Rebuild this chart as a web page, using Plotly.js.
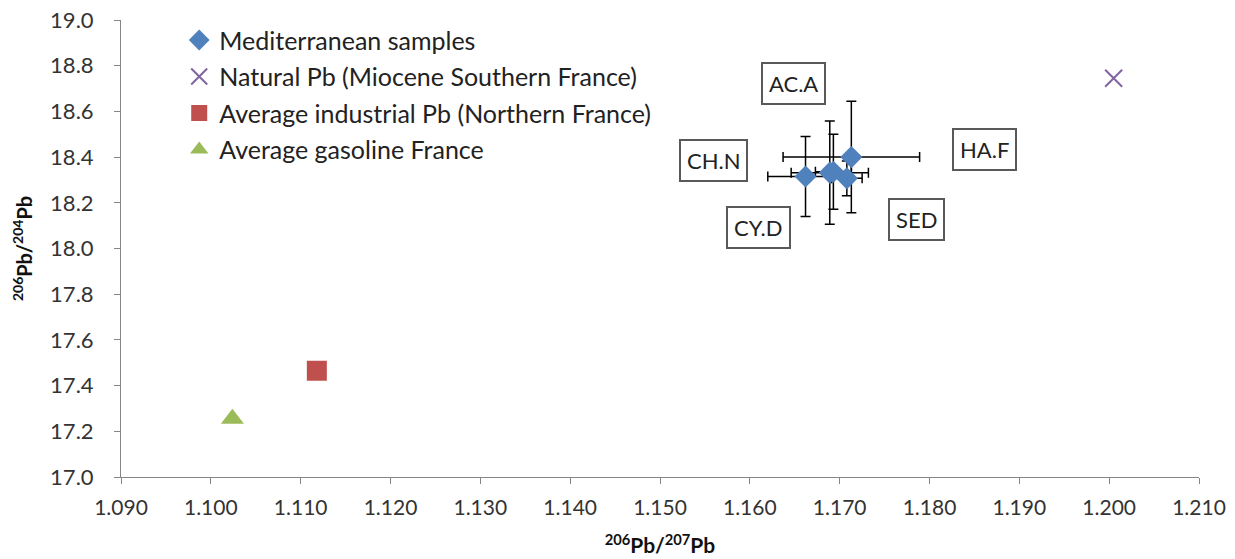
<!DOCTYPE html>
<html>
<head>
<meta charset="utf-8">
<script src="https://cdn.plot.ly/plotly-3.0.1.min.js"></script>
<style>html,body{margin:0;padding:0;background:#fff}#chart{width:1235px;height:559px}</style>
</head>
<body>
<div id="chart"></div>
<script>
// Mediterranean samples
const medNames = ["CH.N", "AC.A", "CY.D", "SED", "HA.F"];
const medX = [1.1662, 1.1689, 1.1693, 1.1708, 1.1713];
const medY = [18.315, 18.332, 18.336, 18.307, 18.400];
const medErrX = [0.0042, 0.0043, 0.0020, 0.0017, 0.0076];
const medErrY = [0.175, 0.226, 0.164, 0.076, 0.244];

// Label boxes
const labelText = ["AC.A", "CH.N", "CY.D", "SED", "HA.F"];
const labelX = [1.1649, 1.1560, 1.1610, 1.1785, 1.1861];
const labelY = [18.72, 18.383, 18.094, 18.129, 18.435];

// Reference end-members
const naturalX = [1.2005];
const naturalY = [18.745];
const industrialX = [1.1118];
const industrialY = [17.465];
const gasolineX = [1.1024];
const gasolineY = [17.255];

const xTicks = [1.09, 1.10, 1.11, 1.12, 1.13, 1.14, 1.15, 1.16, 1.17, 1.18, 1.19, 1.20, 1.21];
const yTicks = [17.0, 17.2, 17.4, 17.6, 17.8, 18.0, 18.2, 18.4, 18.6, 18.8, 19.0];

const FONT = "Lato, Open Sans, sans-serif";

const traces = [
  {
    type: "scatter", mode: "markers", name: "Mediterranean samples",
    x: medX, y: medY, text: medNames, legendgroup: "a",
    marker: {symbol: "diamond", size: 17, color: "#4F81BD"},
    error_x: {type: "data", array: medErrX, visible: true, color: "#000", thickness: 1.5, width: 5},
    error_y: {type: "data", array: medErrY, visible: true, color: "#000", thickness: 1.5, width: 5}
  },
  {
    type: "scatter", mode: "markers", name: "Natural Pb (Miocene Southern France)",
    x: naturalX, y: naturalY, legendgroup: "b",
    marker: {symbol: "x-thin-open", size: 17, color: "#8064A2", line: {color: "#8064A2", width: 2}}
  },
  {
    type: "scatter", mode: "markers", name: "Average industrial Pb (Northern France)",
    x: industrialX, y: industrialY, legendgroup: "c",
    marker: {symbol: "square", size: 20, color: "#C0504D"}
  },
  {
    type: "scatter", mode: "markers", name: "Average gasoline France",
    x: gasolineX, y: gasolineY, legendgroup: "d",
    marker: {symbol: "triangle-up", size: 20, color: "#9BBB59"}
  }
];

const annotations = labelText.map((t, i) => ({
  x: labelX[i], y: labelY[i], xref: "x", yref: "y", text: t, showarrow: false,
  font: {family: FONT, size: 22, color: "#222"},
  bordercolor: "#595959", borderwidth: 2, borderpad: 6, bgcolor: "#fff"
}));

const layout = {
  width: 1235, height: 559,
  margin: {l: 121, r: 36, t: 20, b: 82},
  paper_bgcolor: "#fff", plot_bgcolor: "#fff",
  font: {family: FONT, size: 22, color: "#222"},
  showlegend: true,
  legend: {x: 0.054, y: 1.006, xanchor: "left", yanchor: "top", bgcolor: "rgba(0,0,0,0)",
           font: {family: FONT, size: 25, color: "#222"}, traceorder: "grouped", tracegroupgap: 1,
           itemwidth: 30},
  xaxis: {
    range: [1.09, 1.21], tickvals: xTicks, ticktext: xTicks.map(v => v.toFixed(3)),
    showgrid: false, zeroline: false, showline: true, linecolor: "#868686", linewidth: 1,
    ticks: "outside", ticklen: 6, tickcolor: "#868686", ticklabelstandoff: 6,
    tickfont: {family: FONT, size: 21, color: "#333"},
    title: {text: "<b><sup>206</sup>Pb/<sup>207</sup>Pb</b>", font: {family: FONT, size: 21, color: "#111"}, standoff: 20}
  },
  yaxis: {
    range: [17.0, 19.0], tickvals: yTicks, ticktext: yTicks.map(v => v.toFixed(1)),
    showgrid: false, zeroline: false, showline: true, linecolor: "#868686", linewidth: 1,
    ticks: "outside", ticklen: 6, tickcolor: "#868686", ticklabelstandoff: 16,
    tickfont: {family: FONT, size: 22, color: "#333"},
    title: {text: "<b><sup>206</sup>Pb/<sup>204</sup>Pb</b>", font: {family: FONT, size: 20, color: "#111"}, standoff: 12}
  },
  annotations: annotations
};

Plotly.newPlot("chart", traces, layout, {displayModeBar: false, staticPlot: true});
</script>
</body>
</html>
